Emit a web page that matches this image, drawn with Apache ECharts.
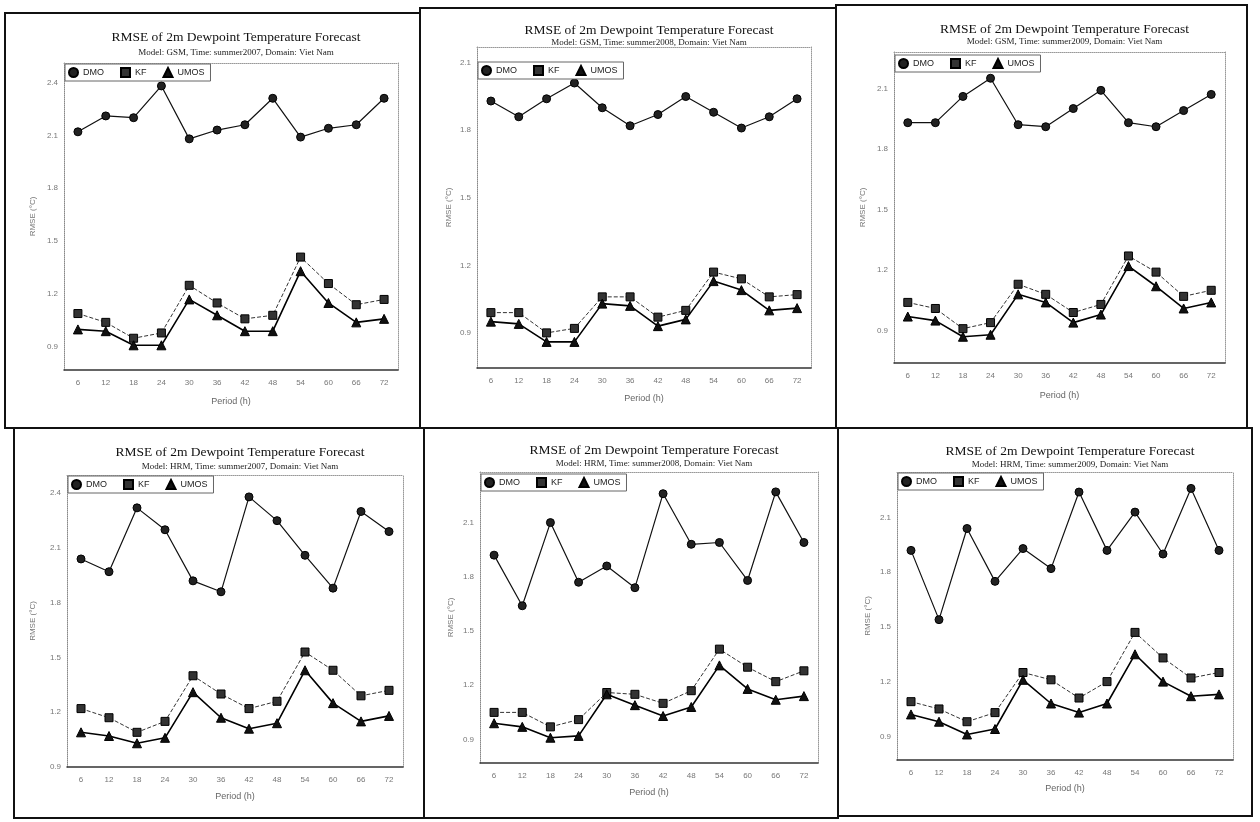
<!DOCTYPE html>
<html><head><meta charset="utf-8">
<script src="https://cdn.jsdelivr.net/npm/echarts@6/dist/echarts.min.js"></script>
<style>html,body{margin:0;padding:0;background:#fff}#c{width:1260px;height:822px}</style>
</head><body><div id="c"></div>
<script>
// ---------- data ----------
const periods = ['6','12','18','24','30','36','42','48','54','60','66','72'];
const titleText = 'RMSE of 2m Dewpoint Temperature Forecast';
const subtitles = [
  'Model: GSM, Time: summer2007, Domain: Viet Nam',
  'Model: GSM, Time: summer2008, Domain: Viet Nam',
  'Model: GSM, Time: summer2009, Domain: Viet Nam',
  'Model: HRM, Time: summer2007, Domain: Viet Nam',
  'Model: HRM, Time: summer2008, Domain: Viet Nam',
  'Model: HRM, Time: summer2009, Domain: Viet Nam'
];
const seriesNames = ['DMO', 'KF', 'UMOS'];
const xAxisName = 'Period (h)';
const yAxisName = 'RMSE (°C)';
const yTicksSix = [0.9, 1.2, 1.5, 1.8, 2.1, 2.4];
const yTicksFive = [0.9, 1.2, 1.5, 1.8, 2.1];

const dmoGsm2007  = [2.12, 2.21, 2.20, 2.38, 2.08, 2.13, 2.16, 2.31, 2.09, 2.14, 2.16, 2.31];
const kfGsm2007   = [1.09, 1.04, 0.95, 0.98, 1.25, 1.15, 1.06, 1.08, 1.41, 1.26, 1.14, 1.17];
const umosGsm2007 = [1.00, 0.99, 0.91, 0.91, 1.17, 1.08, 0.99, 0.99, 1.33, 1.15, 1.04, 1.06];

const dmoGsm2008  = [1.93, 1.86, 1.94, 2.01, 1.90, 1.82, 1.87, 1.95, 1.88, 1.81, 1.86, 1.94];
const kfGsm2008   = [0.99, 0.99, 0.90, 0.92, 1.06, 1.06, 0.97, 1.00, 1.17, 1.14, 1.06, 1.07];
const umosGsm2008 = [0.95, 0.94, 0.86, 0.86, 1.03, 1.02, 0.93, 0.96, 1.13, 1.09, 1.00, 1.01];

const dmoGsm2009  = [1.93, 1.93, 2.06, 2.15, 1.92, 1.91, 2.00, 2.09, 1.93, 1.91, 1.99, 2.07];
const kfGsm2009   = [1.04, 1.01, 0.91, 0.94, 1.13, 1.08, 0.99, 1.03, 1.27, 1.19, 1.07, 1.10];
const umosGsm2009 = [0.97, 0.95, 0.87, 0.88, 1.08, 1.04, 0.94, 0.98, 1.22, 1.12, 1.01, 1.04];

const dmoHrm2007  = [2.04, 1.97, 2.32, 2.20, 1.92, 1.86, 2.38, 2.25, 2.06, 1.88, 2.30, 2.19];
const kfHrm2007   = [1.22, 1.17, 1.09, 1.15, 1.40, 1.30, 1.22, 1.26, 1.53, 1.43, 1.29, 1.32];
const umosHrm2007 = [1.09, 1.07, 1.03, 1.06, 1.31, 1.17, 1.11, 1.14, 1.43, 1.25, 1.15, 1.18];

const dmoHrm2008  = [1.92, 1.64, 2.10, 1.77, 1.86, 1.74, 2.26, 1.98, 1.99, 1.78, 2.27, 1.99];
const kfHrm2008   = [1.05, 1.05, 0.97, 1.01, 1.16, 1.15, 1.10, 1.17, 1.40, 1.30, 1.22, 1.28];
const umosHrm2008 = [0.99, 0.97, 0.91, 0.92, 1.15, 1.09, 1.03, 1.08, 1.31, 1.18, 1.12, 1.14];

const dmoHrm2009  = [1.92, 1.54, 2.04, 1.75, 1.93, 1.82, 2.24, 1.92, 2.13, 1.90, 2.26, 1.92];
const kfHrm2009   = [1.09, 1.05, 0.98, 1.03, 1.25, 1.21, 1.11, 1.20, 1.47, 1.33, 1.22, 1.25];
const umosHrm2009 = [1.02, 0.98, 0.91, 0.94, 1.21, 1.08, 1.03, 1.08, 1.35, 1.20, 1.12, 1.13];

// ---------- layout (positions/styles only) ----------
const panels = [
  {vals:[dmoGsm2007, kfGsm2007, umosGsm2007], ticks:yTicksSix,  ymin:0.77, ymax:2.51,
   grid:{left:64, top:63, width:334, height:307}, tY:33, sY:48, legTop:64, frame:[5,13,415,415], yGap:27, xGap:27},
  {vals:[dmoGsm2008, kfGsm2008, umosGsm2008], ticks:yTicksFive, ymin:0.744, ymax:2.17,
   grid:{left:477, top:47, width:334, height:321}, tY:26, sY:38, legTop:62, frame:[420,8,416,420], yGap:24, xGap:26},
  {vals:[dmoGsm2009, kfGsm2009, umosGsm2009], ticks:yTicksFive, ymin:0.74, ymax:2.28,
   grid:{left:894, top:52, width:331, height:311}, tY:25, sY:37, legTop:55, frame:[836,5,411,423], yGap:27, xGap:28},
  {vals:[dmoHrm2007, kfHrm2007, umosHrm2007], ticks:yTicksSix,  ymin:0.9, ymax:2.5,
   grid:{left:67, top:475, width:336, height:292}, tY:448, sY:462, legTop:476, frame:[14,428,410,390], yGap:30, xGap:25},
  {vals:[dmoHrm2008, kfHrm2008, umosHrm2008], ticks:yTicksFive, ymin:0.77, ymax:2.38,
   grid:{left:480, top:472, width:338, height:291}, tY:446, sY:459, legTop:474, frame:[424,428,414,390], yGap:25, xGap:25},
  {vals:[dmoHrm2009, kfHrm2009, umosHrm2009], ticks:yTicksFive, ymin:0.77, ymax:2.35,
   grid:{left:897, top:472, width:336, height:288}, tY:447, sY:460, legTop:473, frame:[838,428,414,388], yGap:25, xGap:24}
];

const serif = '"Liberation Serif", "DejaVu Serif", serif';
const sans = '"Liberation Sans", Arial, sans-serif';
const seriesStyle = [
  {symbol:'circle',   symbolSize:8, lineStyle:{color:'#111', width:1.2, type:'solid'},
   itemStyle:{color:'#222', borderColor:'#000', borderWidth:1}},
  {symbol:'rect',     symbolSize:8, lineStyle:{color:'#333', width:1, type:'dashed'},
   itemStyle:{color:'#333', borderColor:'#000', borderWidth:1}},
  {symbol:'triangle', symbolSize:9, lineStyle:{color:'#000', width:1.6, type:'solid'},
   itemStyle:{color:'#111', borderColor:'#000', borderWidth:1}}
];
const legendIcons = ['circle', 'rect', 'triangle'];

const option = {
  backgroundColor:'#fff',
  animation:false,
  title:[], grid:[], xAxis:[], yAxis:[], series:[], legend:[], graphic:[]
};

panels.forEach((p, i) => {
  const cx = p.grid.left + p.grid.width / 2;
  option.title.push({text:titleText, left:cx, textAlign:'center', top:p.tY - 8,
    textStyle:{fontFamily:serif, fontSize:13.5, fontWeight:'normal', color:'#111'}});
  option.title.push({text:subtitles[i], left:cx, textAlign:'center', top:p.sY - 5,
    textStyle:{fontFamily:serif, fontSize:9, fontWeight:'normal', color:'#222'}});
  option.grid.push(Object.assign({containLabel:false}, p.grid));
  option.xAxis.push({type:'category', gridIndex:i, data:periods, boundaryGap:true,
    name:xAxisName, nameLocation:'middle', nameGap:p.xGap,
    nameTextStyle:{fontFamily:sans, fontSize:9, color:'#666'},
    axisLine:{lineStyle:{color:'#333', width:1.5}}, axisTick:{show:false},
    axisLabel:{fontFamily:sans, fontSize:8, color:'#777', margin:9}});
  option.xAxis.push({type:'category', gridIndex:i, data:periods, position:'top',
    axisLine:{lineStyle:{color:'#999', width:1, type:'dotted'}}, axisTick:{show:false}, axisLabel:{show:false}});
  option.yAxis.push({type:'value', gridIndex:i, min:p.ymin, max:p.ymax,
    name:yAxisName, nameLocation:'middle', nameGap:p.yGap,
    nameTextStyle:{fontFamily:sans, fontSize:8, color:'#777'},
    axisLine:{show:true, lineStyle:{color:'#888', width:1, type:'dotted'}},
    axisTick:{show:false}, splitLine:{show:false},
    axisLabel:{fontFamily:sans, fontSize:8, color:'#777', margin:6, customValues:p.ticks,
      formatter:v => v.toFixed(1)}});
  option.yAxis.push({type:'value', gridIndex:i, min:p.ymin, max:p.ymax, position:'right',
    axisLine:{show:true, lineStyle:{color:'#999', width:1, type:'dotted'}},
    axisTick:{show:false}, splitLine:{show:false}, axisLabel:{show:false}});
  seriesNames.forEach((n, k) => {
    option.series.push(Object.assign({type:'line', name:n, xAxisIndex:i*2, yAxisIndex:i*2,
      data:p.vals[k], showAllSymbol:true, z:3 + k}, seriesStyle[k]));
  });
  option.legend.push({left:p.grid.left + 1, top:p.legTop, orient:'horizontal',
    data:seriesNames.map((n, k) => ({name:n, icon:legendIcons[k]})),
    itemWidth:9, itemHeight:9, itemGap:16, selectedMode:false,
    padding:[3, 6, 3, 3], borderColor:'#666', borderWidth:1, backgroundColor:'#fff',
    textStyle:{fontFamily:sans, fontSize:9, color:'#222'}});
  option.graphic.push({type:'rect', silent:true, z:100,
    shape:{x:p.frame[0], y:p.frame[1], width:p.frame[2], height:p.frame[3]},
    style:{fill:'none', stroke:'#111', lineWidth:2}});
});

const chart = echarts.init(document.getElementById('c'), null, {renderer:'canvas'});
chart.setOption(option);
</script></body></html>
